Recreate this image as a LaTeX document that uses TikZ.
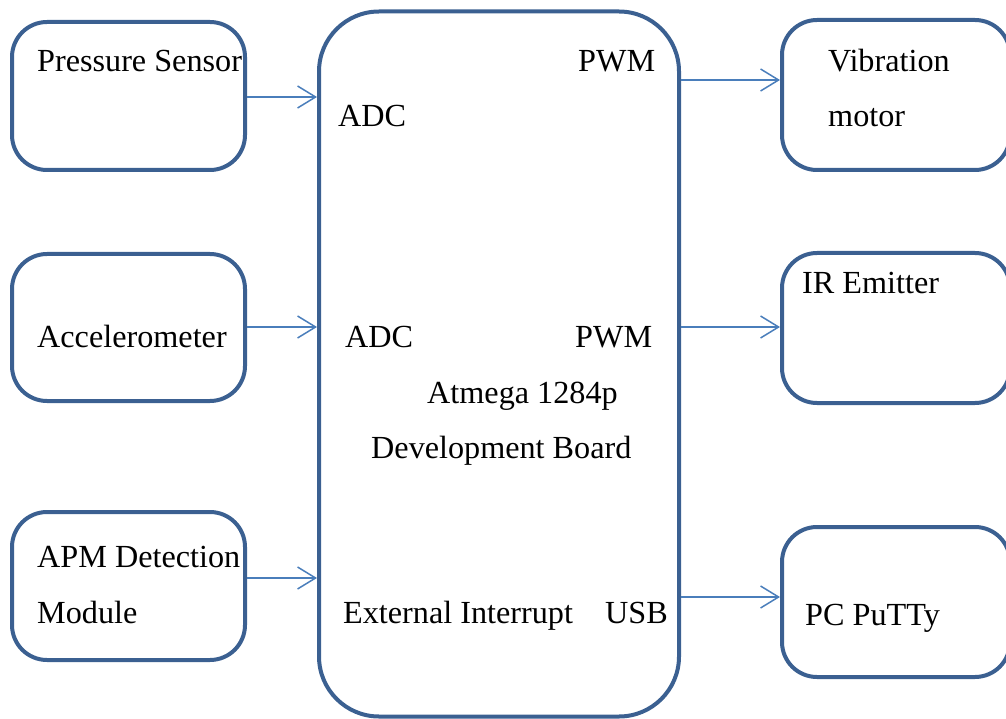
\documentclass[tikz,border=0pt]{standalone}
\usepackage{fontspec}
\setmainfont{Liberation Serif}
\usetikzlibrary{arrows.meta}
\definecolor{boxblue}{RGB}{59,96,145}
\definecolor{arrblue}{RGB}{74,126,187}
\begin{document}
\begin{tikzpicture}[x=1pt,y=-1pt,
  box/.style={draw=boxblue, line width=4pt, rounded corners=35pt, inner sep=0pt},
  bigbox/.style={draw=boxblue, line width=4pt, rounded corners=60pt, inner sep=0pt},
  arr/.style={draw=arrblue, line width=1.5pt, -{Straight Barb[length=18pt,width=22pt,line width=1.5pt]}},
  lbl/.style={anchor=base west, inner sep=0pt, font=\fontsize{32.2}{38}\selectfont}]
\useasboundingbox (0,0) rectangle (1006,719);
% boxes
\node[box, minimum width=233pt, minimum height=148pt] (ps) at (128.5,96) {};
\node[box, minimum width=233pt, minimum height=147pt] (acc) at (128.5,327.5) {};
\node[box, minimum width=233pt, minimum height=148pt] (apm) at (128.5,586) {};
\node[bigbox, minimum width=360pt, minimum height=705pt] (mcu) at (499,364) {};
\node[box, minimum width=228pt, minimum height=150pt] (vib) at (896,95) {};
\node[box, minimum width=228pt, minimum height=150pt] (ir) at (896,328) {};
\node[box, minimum width=228pt, minimum height=150pt] (pc) at (896,602) {};
% arrows
\draw[arr] (ps.east |- 0,97) -- (mcu.west |- 0,97);
\draw[arr] (acc.east |- 0,327) -- (mcu.west |- 0,327);
\draw[arr] (apm.east |- 0,578) -- (mcu.west |- 0,578);
\draw[arr] (mcu.east |- 0,80) -- (vib.west |- 0,80);
\draw[arr] (mcu.east |- 0,327) -- (ir.west |- 0,327);
\draw[arr] (mcu.east |- 0,597) -- (pc.west |- 0,597);
% texts
\node[lbl] (t1) at (37,72) {Pressure Sensor};
\node[lbl] (t2) at (37,347) {Accelerometer};
\node[lbl] (t3) at (37,567) {APM Detection};
\node[lbl] (t4) at (37,623) {Module};
\node[lbl] (t5) at (338,127) {ADC};
\node[lbl] (t6) at (578,72) {PWM};
\node[lbl] (t7) at (345,347) {ADC};
\node[lbl] (t8) at (575,347) {PWM};
\node[lbl] (t9) at (427,403) {Atmega 1284p};
\node[lbl] (t10) at (371,458) {Development Board};
\node[lbl] (t11) at (343,623) {External Interrupt};
\node[lbl] (t12) at (605,623) {USB};
\node[lbl] (t13) at (828,72) {Vibration};
\node[lbl] (t14) at (828,127) {motor};
\node[lbl] (t15) at (802,293) {IR Emitter};
\node[lbl] (t16) at (805,625) {PC PuTTy};
\end{tikzpicture}
\end{document}
